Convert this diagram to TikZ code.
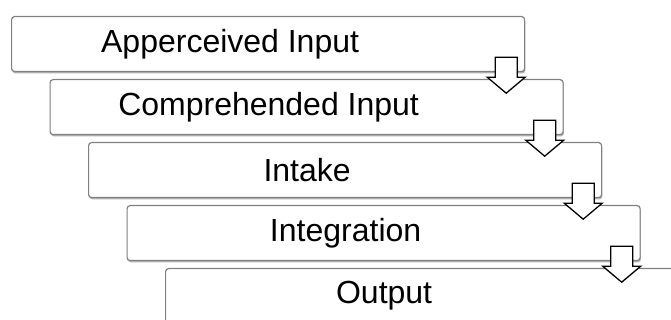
\documentclass[tikz,border=0pt]{standalone}
\usepackage{fontspec}
\setmainfont{Liberation Sans}
\usetikzlibrary{shadows,calc}

\tikzset{
  x=1pt, y=1pt,
  stagebox/.style={
    draw=black!50, line width=1.2pt, fill=white, rounded corners=3pt,
    minimum width=513pt, minimum height=55pt, inner sep=0pt, anchor=north west,
    drop shadow={shadow xshift=0.8pt, shadow yshift=-1.8pt, fill=black!50, opacity=0.6},
  },
  stagetext/.style={font=\fontsize{32}{38}\selectfont, text=black, inner sep=0pt},
  downarrow/.pic={
    \draw[line width=1.3pt, fill=white, line join=miter]
      (-11,0) -- (11,0) -- (11,-20) -- (19,-20) -- (0,-36) -- (-19,-20) -- (-11,-20) -- cycle;
  },
}

\begin{document}
\begin{tikzpicture}
  \useasboundingbox (0,0) rectangle (671,320);
  \clip (0,0) rectangle (671,320);

  % stepped stage boxes
  \node[stagebox] (b1) at (11,304)   {};
  \node[stagebox] (b2) at (49.5,241) {};
  \node[stagebox] (b3) at (88,178)   {};
  \node[stagebox] (b4) at (126.5,115) {};
  \node[stagebox] (b5) at (165,52)   {};

  % stage labels, set a little left of centre
  \node[stagetext] (t1) at ($(b1.center)+(-38,0)$) {Apperceived Input};
  \node[stagetext] (t2) at ($(b2.center)+(-38,0)$) {Comprehended Input};
  \node[stagetext] (t3) at ($(b3.center)+(-38,0)$) {Intake};
  \node[stagetext] (t4) at ($(b4.center)+(-38,0)$) {Integration};
  \node[stagetext] (t5) at ($(b5.center)+(-38,0)$) {Output};

  % block arrows leading from each stage to the next
  \coordinate (a1) at ($(b1.south east)+(-19,15)$);
  \coordinate (a2) at ($(b2.south east)+(-19,15)$);
  \coordinate (a3) at ($(b3.south east)+(-19,15)$);
  \coordinate (a4) at ($(b4.south east)+(-19,15)$);
  \pic at (a1) {downarrow};
  \pic at (a2) {downarrow};
  \pic at (a3) {downarrow};
  \pic at (a4) {downarrow};
\end{tikzpicture}
\end{document}
